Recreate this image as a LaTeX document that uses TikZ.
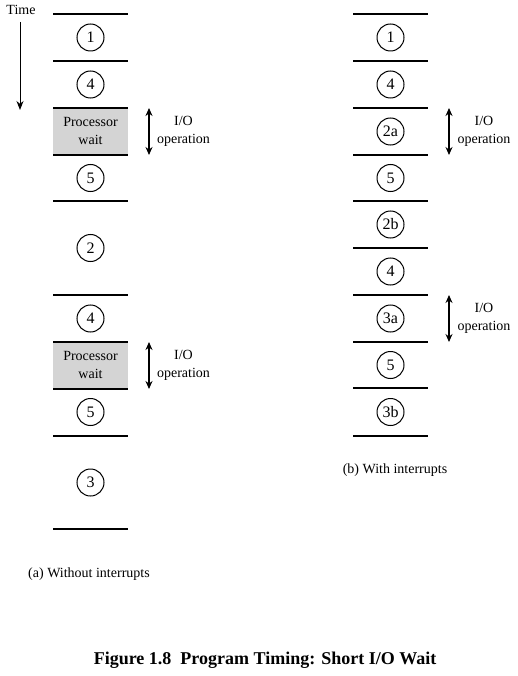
\documentclass[tikz,border=0pt]{standalone}
\usepackage{fontspec}
\setmainfont{Liberation Serif}
\usetikzlibrary{arrows.meta}
\begin{document}
\begin{tikzpicture}[x=1pt,y=-1pt,
  sep/.style={line width=1.4pt},
  waitbox/.style={fill={rgb,255:red,212;green,212;blue,212},draw=none},
  stepcirc/.style={circle,draw,line width=1pt,minimum size=27pt,inner sep=0pt,font=\fontsize{16}{18}\selectfont},
  lbl/.style={font=\fontsize{14}{18}\selectfont,align=center,inner sep=0pt},
  ioarrow/.style={line width=1.2pt,{Stealth[length=8pt,width=7pt]}-{Stealth[length=8pt,width=7pt]}},
  timearrow/.style={line width=1pt,-{Stealth[length=9pt,width=7pt]}}]
\useasboundingbox (0,0) rectangle (517,676);
% Time
\node[lbl] (time) at (21,10) {Time};
\coordinate (t1) at (20,22);
\coordinate (t2) at (20,110);
\draw[timearrow] (t1) -- (t2);
% ---- left column
\fill[waitbox] (53,108) rectangle (128,155);
\fill[waitbox] (53,342) rectangle (128,389);
\foreach \y [count=\i] in {14,61,108,155,201,295,342,389,436,529}{
  \coordinate (la\i) at (53,\y);
  \coordinate (lb\i) at (128,\y);
  \draw[sep] (la\i) -- (lb\i);
}
\node[stepcirc] (a1) at (90.5,37.5) {1};
\node[stepcirc] (a2) at (90.5,84.5) {4};
\node[lbl] (aw1) at (90.5,131) {Processor\\wait};
\node[stepcirc] (a3) at (90.5,178) {5};
\node[stepcirc] (a4) at (90.5,248) {2};
\node[stepcirc] (a5) at (90.5,318.5) {4};
\node[lbl] (aw2) at (90.5,365) {Processor\\wait};
\node[stepcirc] (a6) at (90.5,412) {5};
\node[stepcirc] (a7) at (90.5,482.5) {3};
\coordinate (ai1) at (149,108);
\coordinate (ai2) at (149,155);
\draw[ioarrow] (ai1) -- (ai2);
\node[lbl] (aio1) at (183.5,131) {I/O\\operation};
\coordinate (ai3) at (149,342);
\coordinate (ai4) at (149,389);
\draw[ioarrow] (ai3) -- (ai4);
\node[lbl] (aio2) at (183.5,365) {I/O\\operation};
% ---- right column
\foreach \y [count=\i] in {14,61,108,155,201,248,295,342,388,436}{
  \coordinate (ra\i) at (353,\y);
  \coordinate (rb\i) at (428,\y);
  \draw[sep] (ra\i) -- (rb\i);
}
\node[stepcirc] (b1) at (390.5,37.5) {1};
\node[stepcirc] (b2) at (390.5,84.5) {4};
\node[stepcirc] (b3) at (390.5,131.5) {2a};
\node[stepcirc] (b4) at (390.5,178) {5};
\node[stepcirc] (b5) at (390.5,224.5) {2b};
\node[stepcirc] (b6) at (390.5,271.5) {4};
\node[stepcirc] (b7) at (390.5,318.5) {3a};
\node[stepcirc] (b8) at (390.5,365) {5};
\node[stepcirc] (b9) at (390.5,412) {3b};
\coordinate (bi1) at (449,108);
\coordinate (bi2) at (449,155);
\draw[ioarrow] (bi1) -- (bi2);
\node[lbl] (bio1) at (484,131) {I/O\\operation};
\coordinate (bi3) at (449,295);
\coordinate (bi4) at (449,342);
\draw[ioarrow] (bi3) -- (bi4);
\node[lbl] (bio2) at (484,318) {I/O\\operation};
% captions
\node[lbl] (capa) at (89,574) {(a) Without interrupts};
\node[lbl] (capb) at (395,470) {(b) With interrupts};
\node[font=\fontsize{18}{20}\selectfont\bfseries,inner sep=0pt] (title) at (265,660) {Figure 1.8\ \ Program Timing: Short I/O Wait};
\end{tikzpicture}
\end{document}
